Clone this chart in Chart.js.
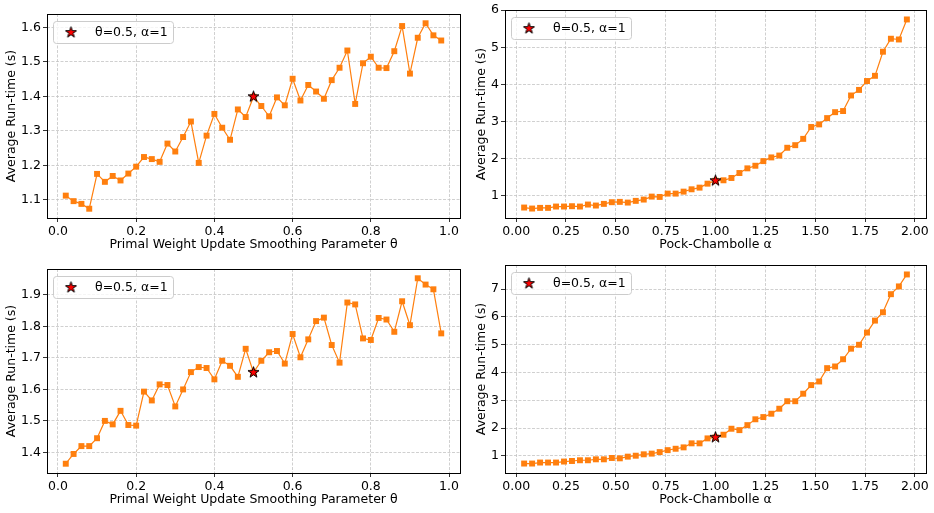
<!DOCTYPE html>
<html>
<head>
<meta charset="utf-8">
<script src="https://cdn.jsdelivr.net/npm/chart.js@4.4.1/dist/chart.umd.min.js"></script>
<style>
  html, body { margin: 0; padding: 0; background: #fff; }
  body { width: 934px; height: 513px; position: relative; overflow: hidden; }
  canvas { position: absolute; }
</style>
</head>
<body>
<canvas id="thetaTop" width="470" height="256" style="left:0;top:0"></canvas>
<canvas id="alphaTop" width="469" height="256" style="left:465px;top:0"></canvas>
<canvas id="thetaBottom" width="470" height="257" style="left:0;top:256px"></canvas>
<canvas id="alphaBottom" width="469" height="257" style="left:465px;top:256px"></canvas>
<script>
// x values of the two sweeps
const thetaValues = [0.02, 0.04, 0.06, 0.08, 0.10, 0.12, 0.14, 0.16, 0.18, 0.20,
    0.22, 0.24, 0.26, 0.28, 0.30, 0.32, 0.34, 0.36, 0.38, 0.40,
    0.42, 0.44, 0.46, 0.48, 0.50, 0.52, 0.54, 0.56, 0.58, 0.60,
    0.62, 0.64, 0.66, 0.68, 0.70, 0.72, 0.74, 0.76, 0.78, 0.80,
    0.82, 0.84, 0.86, 0.88, 0.90, 0.92, 0.94, 0.96, 0.98];
const alphaValues = [0.04, 0.08, 0.12, 0.16, 0.20, 0.24, 0.28, 0.32, 0.36, 0.40,
    0.44, 0.48, 0.52, 0.56, 0.60, 0.64, 0.68, 0.72, 0.76, 0.80,
    0.84, 0.88, 0.92, 0.96, 1.00, 1.04, 1.08, 1.12, 1.16, 1.20,
    1.24, 1.28, 1.32, 1.36, 1.40, 1.44, 1.48, 1.52, 1.56, 1.60,
    1.64, 1.68, 1.72, 1.76, 1.80, 1.84, 1.88, 1.92, 1.96];

// average run-time (s)
const thetaRuntimeTop = [1.112, 1.096, 1.088, 1.074, 1.175, 1.152, 1.169, 1.156, 1.176, 1.196,
    1.224, 1.218, 1.210, 1.263, 1.240, 1.282, 1.327, 1.207, 1.286, 1.349,
    1.309, 1.274, 1.362, 1.340, 1.399, 1.372, 1.342, 1.397, 1.374, 1.451,
    1.388, 1.433, 1.414, 1.393, 1.447, 1.483, 1.533, 1.378, 1.496, 1.515,
    1.483, 1.482, 1.531, 1.604, 1.466, 1.570, 1.612, 1.577, 1.562];
const alphaRuntimeTop = [0.678, 0.651, 0.669, 0.669, 0.705, 0.705, 0.714, 0.705, 0.759, 0.732,
    0.777, 0.822, 0.831, 0.812, 0.858, 0.893, 0.973, 0.964, 1.054, 1.054,
    1.107, 1.170, 1.215, 1.322, 1.403, 1.413, 1.475, 1.609, 1.735, 1.805,
    1.930, 2.030, 2.080, 2.290, 2.360, 2.530, 2.850, 2.920, 3.090, 3.250,
    3.280, 3.700, 3.850, 4.090, 4.230, 4.880, 5.230, 5.210, 5.750];
const thetaRuntimeBottom = [1.364, 1.395, 1.420, 1.420, 1.445, 1.500, 1.489, 1.532, 1.487, 1.485,
    1.593, 1.565, 1.616, 1.614, 1.546, 1.600, 1.655, 1.671, 1.668, 1.632,
    1.691, 1.675, 1.640, 1.729, 1.654, 1.691, 1.718, 1.722, 1.682, 1.776,
    1.702, 1.759, 1.817, 1.828, 1.741, 1.685, 1.876, 1.870, 1.762, 1.757,
    1.827, 1.822, 1.783, 1.880, 1.804, 1.953, 1.933, 1.918, 1.778];
const alphaRuntimeBottom = [0.728, 0.728, 0.764, 0.764, 0.764, 0.800, 0.820, 0.846, 0.846, 0.880,
    0.880, 0.928, 0.916, 0.976, 1.010, 1.060, 1.085, 1.140, 1.210, 1.260,
    1.310, 1.455, 1.455, 1.633, 1.670, 1.765, 1.980, 1.930, 2.110, 2.320,
    2.400, 2.520, 2.700, 2.970, 2.970, 3.240, 3.550, 3.680, 4.160, 4.220,
    4.480, 4.860, 5.000, 5.440, 5.870, 6.170, 6.820, 7.100, 7.530];

// the default setting, marked with a star
const starTop = { theta: [0.5, 1.399], alpha: [1.0, 1.403] };
const starBottom = { theta: [0.5, 1.654], alpha: [1.0, 1.670] };

// tick labels
const thetaTicks = [0.0, 0.2, 0.4, 0.6, 0.8, 1.0];
const alphaTicks = [0.00, 0.25, 0.50, 0.75, 1.00, 1.25, 1.50, 1.75, 2.00];
const yTicksThetaTop = [1.1, 1.2, 1.3, 1.4, 1.5, 1.6];
const yTicksAlphaTop = [1, 2, 3, 4, 5, 6];
const yTicksThetaBottom = [1.4, 1.5, 1.6, 1.7, 1.8, 1.9];
const yTicksAlphaBottom = [1, 2, 3, 4, 5, 6, 7];

const legendLabel = 'θ=0.5, α=1';
const ORANGE = '#ff7f0e';
const FONT = 'DejaVu Sans';

Chart.defaults.font.family = FONT;
Chart.defaults.color = '#000';

function makeStar(r) {
    const s = 2 * Math.ceil(r) + 5;
    const c = document.createElement('canvas');
    c.width = s; c.height = s;
    const g = c.getContext('2d');
    g.beginPath();
    for (let i = 0; i < 10; i++) {
        const rad = i % 2 === 0 ? r : r * 0.382;
        const a = -Math.PI / 2 + i * Math.PI / 5;
        const px = s / 2 + rad * Math.cos(a), py = s / 2 + rad * Math.sin(a);
        if (i === 0) g.moveTo(px, py); else g.lineTo(px, py);
    }
    g.closePath();
    g.fillStyle = '#ff0000';
    g.fill();
    g.strokeStyle = '#000';
    g.lineWidth = 1;
    g.stroke();
    return c;
}
const starImg = makeStar(5.8);

function padRange(vals) {
    const lo = Math.min(...vals), hi = Math.max(...vals);
    const m = (hi - lo) * 0.05;
    return [lo - m, hi + m];
}

// black frame round the axes
const framePlugin = {
    id: 'frame',
    afterDatasetsDraw(chart) {
        const a = chart.chartArea, ctx = chart.ctx;
        ctx.save();
        ctx.strokeStyle = '#000';
        ctx.lineWidth = 1;
        ctx.strokeRect(Math.round(a.left) + 0.5, Math.round(a.top) + 0.5,
            Math.round(a.right - a.left), Math.round(a.bottom - a.top));
        ctx.restore();
    }
};

// matplotlib-like legend box in the upper left corner
const legendPlugin = {
    id: 'boxLegend',
    afterDraw(chart) {
        const a = chart.chartArea, ctx = chart.ctx;
        const x = a.left + 6, y = a.top + 7, w = 120, h = 22, r = 3;
        ctx.save();
        ctx.beginPath();
        ctx.roundRect(x + 0.5, y + 0.5, w, h, r);
        ctx.fillStyle = 'rgba(255,255,255,0.8)';
        ctx.fill();
        ctx.strokeStyle = '#cccccc';
        ctx.lineWidth = 1;
        ctx.stroke();
        ctx.drawImage(starImg, x + 18 - starImg.width / 2, y + h / 2 + 0.5 - starImg.height / 2);
        ctx.fillStyle = '#000';
        ctx.font = '12.5px "' + FONT + '"';
        ctx.textBaseline = 'middle';
        ctx.fillText(legendLabel, x + 42, y + h / 2 + 1);
        ctx.restore();
    }
};

function axisOpts(range, ticks, digits, title, size, titlePad) {
    return {
        type: 'linear',
        min: range[0],
        max: range[1],
        afterBuildTicks: (axis) => { axis.ticks = ticks.map(v => ({ value: v })); },
        afterFit: (axis) => {
            if (axis.isHorizontal()) axis.height = size; else axis.width = size;
            axis.paddingTop = 0; axis.paddingBottom = 0;
            axis.paddingLeft = 0; axis.paddingRight = 0;
        },
        ticks: {
            callback: (v) => Number(v).toFixed(digits),
            font: { size: 12.5 },
            color: '#000',
            padding: 2,
            maxRotation: 0,
            autoSkip: false
        },
        grid: {
            color: '#c4c4c4',
            lineWidth: 0.8,
            tickColor: '#000',
            tickLength: 4,
            tickWidth: 0.8
        },
        border: { display: false, dash: [3, 1.5] },
        title: {
            display: true,
            text: title,
            font: { size: 12.5 },
            color: '#000',
            padding: titlePad
        }
    };
}

function renderPanel(canvasId, cfg) {
    const points = cfg.x.map((x, i) => ({ x: x, y: cfg.y[i] }));
    const ctx = document.getElementById(canvasId).getContext('2d');
    return new Chart(ctx, {
        type: 'line',
        data: {
            datasets: [
                {
                    data: [{ x: cfg.star[0], y: cfg.star[1] }],
                    showLine: false,
                    pointStyle: starImg,
                    pointRadius: 6,
                    order: 0
                },
                {
                    data: points,
                    borderColor: ORANGE,
                    borderWidth: 1.2,
                    tension: 0,
                    fill: false,
                    pointStyle: 'rect',
                    pointRadius: 4.2,
                    pointBackgroundColor: ORANGE,
                    pointBorderWidth: 0,
                    order: 1
                }
            ]
        },
        options: {
            responsive: false,
            animation: false,
            events: [],
            layout: { padding: cfg.padding },
            plugins: { legend: { display: false }, tooltip: { enabled: false } },
            scales: {
                x: axisOpts(padRange(cfg.x), cfg.xTicks, cfg.xDigits, cfg.xTitle, 34, { top: 0, bottom: 0 }),
                y: axisOpts(padRange(cfg.y), cfg.yTicks, cfg.yDigits, 'Average Run-time (s)', cfg.yWidth, { top: cfg.yTitlePad, bottom: 0 })
            }
        },
        plugins: [framePlugin, legendPlugin]
    });
}

const thetaTitle = 'Primal Weight Update Smoothing Parameter θ';
const alphaTitle = 'Pock-Chambolle α';

renderPanel('thetaTop', {
    x: thetaValues, y: thetaRuntimeTop, star: starTop.theta,
    xTicks: thetaTicks, xDigits: 1, yTicks: yTicksThetaTop, yDigits: 1,
    xTitle: thetaTitle, yWidth: 47, yTitlePad: 4.5,
    padding: { top: 14, right: 10, bottom: 4, left: 0 }
});
renderPanel('alphaTop', {
    x: alphaValues, y: alphaRuntimeTop, star: starTop.alpha,
    xTicks: alphaTicks, xDigits: 2, yTicks: yTicksAlphaTop, yDigits: 0,
    xTitle: alphaTitle, yWidth: 40, yTitlePad: 9.5,
    padding: { top: 10, right: 8, bottom: 4, left: 0 }
});
renderPanel('thetaBottom', {
    x: thetaValues, y: thetaRuntimeBottom, star: starBottom.theta,
    xTicks: thetaTicks, xDigits: 1, yTicks: yTicksThetaBottom, yDigits: 1,
    xTitle: thetaTitle, yWidth: 47, yTitlePad: 4.5,
    padding: { top: 13, right: 10, bottom: 6, left: 0 }
});
renderPanel('alphaBottom', {
    x: alphaValues, y: alphaRuntimeBottom, star: starBottom.alpha,
    xTicks: alphaTicks, xDigits: 2, yTicks: yTicksAlphaBottom, yDigits: 0,
    xTitle: alphaTitle, yWidth: 40, yTitlePad: 9.5,
    padding: { top: 9, right: 8, bottom: 6, left: 0 }
});
</script>
</body>
</html>
